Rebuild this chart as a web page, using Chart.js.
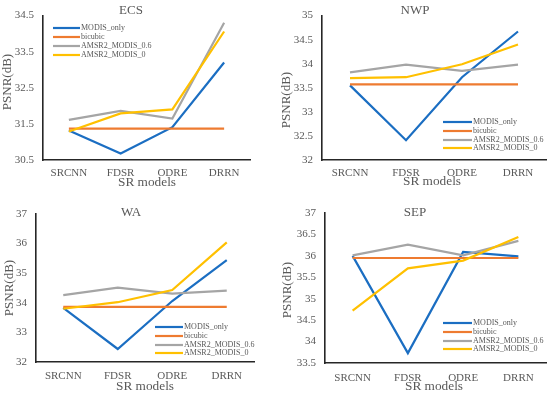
<!DOCTYPE html>
<html>
<head>
<meta charset="utf-8">
<script src="https://cdn.jsdelivr.net/npm/chart.js@4"></script>
<style>
html,body{margin:0;padding:0;background:#fff;width:550px;height:393px;overflow:hidden;}
.panel{position:absolute;}
</style>
</head>
<body>
<div class="panel" style="left:0;top:0;"><canvas id="c1" width="275" height="196"></canvas></div>
<div class="panel" style="left:275px;top:0;"><canvas id="c2" width="275" height="196"></canvas></div>
<div class="panel" style="left:0;top:196px;"><canvas id="c3" width="275" height="197"></canvas></div>
<div class="panel" style="left:275px;top:196px;"><canvas id="c4" width="275" height="197"></canvas></div>
<script>
const categories = ['SRCNN', 'FDSR', 'ODRE', 'DRRN'];
const seriesNames = ['MODIS_only', 'bicubic', 'AMSR2_MODIS_0.6', 'AMSR2_MODIS_0'];
const xTitle = 'SR models';
const yTitle = 'PSNR(dB)';

// ECS
const ecsModisOnly = [31.32, 30.68, 31.41, 33.20];
const ecsBicubic   = [31.37, 31.37, 31.37, 31.37];
const ecsAmsr06    = [31.61, 31.86, 31.65, 34.30];
const ecsAmsr0     = [31.29, 31.79, 31.90, 34.06];
const ecsTicks     = [30.5, 31.5, 32.5, 33.5, 34.5];

// NWP
const nwpModisOnly = [33.55, 32.41, 33.72, 34.67];
const nwpBicubic   = [33.57, 33.57, 33.57, 33.57];
const nwpAmsr06    = [33.82, 33.98, 33.85, 33.98];
const nwpAmsr0     = [33.70, 33.72, 33.99, 34.40];
const nwpTicks     = [32, 32.5, 33, 33.5, 34, 34.5, 35];

// WA
const waModisOnly = [33.83, 32.44, 34.06, 35.44];
const waBicubic   = [33.86, 33.86, 33.86, 33.86];
const waAmsr06    = [34.26, 34.51, 34.31, 34.41];
const waAmsr0     = [33.80, 34.02, 34.43, 36.04];
const waTicks     = [32, 33, 34, 35, 36, 37];

// SEP
const sepModisOnly = [36.00, 33.73, 36.09, 35.99];
const sepBicubic   = [35.95, 35.95, 35.95, 35.95];
const sepAmsr06    = [36.01, 36.26, 36.01, 36.35];
const sepAmsr0     = [34.72, 35.71, 35.89, 36.44];
const sepTicks     = [33.5, 34, 34.5, 35, 35.5, 36, 36.5, 37];

const colors = ['#1B6EC2', '#EE7B30', '#A5A5A5', '#FFC000'];
const textColor = '#595959';
const FONT = '"Liberation Serif", "Times New Roman", serif';

const decoPlugin = {
  id: 'deco',
  afterDraw(chart, args, o) {
    const ctx = chart.ctx;
    ctx.save();
    ctx.fillStyle = textColor;
    ctx.textAlign = 'center';
    ctx.textBaseline = 'middle';
    ctx.font = '13px ' + FONT;
    ctx.fillText(o.title, o.titleX, o.titleY);
    ctx.font = '13.3px ' + FONT;
    ctx.fillText(xTitle, o.xtX, o.xtY);
    ctx.save();
    ctx.translate(o.ytX, o.ytY);
    ctx.rotate(-Math.PI / 2);
    ctx.font = '13px ' + FONT;
    ctx.fillText(yTitle, 0, 0);
    ctx.restore();
    // legend
    ctx.font = '8px ' + FONT;
    ctx.textAlign = 'left';
    chart.data.datasets.forEach((ds, i) => {
      const y = o.legY[i];
      ctx.strokeStyle = ds.borderColor;
      ctx.lineWidth = 2.2;
      ctx.beginPath();
      ctx.moveTo(o.legX1, y);
      ctx.lineTo(o.legX2, y);
      ctx.stroke();
      ctx.fillStyle = textColor;
      ctx.fillText(ds.label, o.legX2 + 1, y);
    });
    ctx.restore();
  }
};

function makeChart(id, vals, ticks, g, deco) {
  const [w, h] = [g.w, g.h];
  new Chart(document.getElementById(id), {
    type: 'line',
    data: {
      labels: categories,
      datasets: vals.map((v, i) => ({
        label: seriesNames[i],
        data: v,
        borderColor: colors[i],
        backgroundColor: colors[i],
        borderWidth: 2.2,
        pointRadius: 0,
        tension: 0,
        fill: false,
        order: 3 - i
      }))
    },
    options: {
      responsive: false,
      animation: false,
      devicePixelRatio: 1,
      layout: { padding: { top: g.top, right: w - g.right, left: 0, bottom: 0 } },
      plugins: { legend: { display: false }, tooltip: { enabled: false }, title: { display: false }, deco: deco },
      scales: {
        x: {
          offset: true,
          grid: { display: false, drawTicks: false },
          border: { display: true, color: '#262626', width: 1.6 },
          ticks: { color: textColor, font: { family: FONT, size: 11 }, padding: g.xpad, maxRotation: 0, autoSkip: false },
          afterFit: s => { s.height = h - g.bottom; }
        },
        y: {
          min: ticks[0],
          max: ticks[ticks.length - 1],
          afterBuildTicks: s => { s.ticks = ticks.map(v => ({ value: v })); },
          grid: { display: false, drawTicks: false },
          border: { display: true, color: '#262626', width: 1.6 },
          ticks: { color: textColor, font: { family: FONT, size: 11 }, padding: 9, callback: v => String(v) },
          afterFit: s => { s.width = g.left; }
        }
      }
    },
    plugins: [decoPlugin]
  });
}

makeChart('c1', [ecsModisOnly, ecsBicubic, ecsAmsr06, ecsAmsr0], ecsTicks,
  { w: 275, h: 196, left: 43, right: 250, top: 13, bottom: 160, xpad: 7 },
  { title: 'ECS', titleX: 131, titleY: 11, xtX: 147, xtY: 183, ytX: 8, ytY: 82,
    legX1: 53, legX2: 80, legY: [28, 37, 46, 55] });

makeChart('c2', [nwpModisOnly, nwpBicubic, nwpAmsr06, nwpAmsr0], nwpTicks,
  { w: 275, h: 196, left: 47, right: 271, top: 13, bottom: 160, xpad: 7 },
  { title: 'NWP', titleX: 140, titleY: 11, xtX: 157, xtY: 182, ytX: 12, ytY: 100,
    legX1: 168, legX2: 197, legY: [122, 131, 140, 148] });

makeChart('c3', [waModisOnly, waBicubic, waAmsr06, waAmsr0], waTicks,
  { w: 275, h: 197, left: 36, right: 254, top: 18, bottom: 166, xpad: 8 },
  { title: 'WA', titleX: 131, titleY: 17, xtX: 145, xtY: 191, ytX: 10, ytY: 92,
    legX1: 155, legX2: 183, legY: [131, 140, 149, 157] });

makeChart('c4', [sepModisOnly, sepBicubic, sepAmsr06, sepAmsr0], sepTicks,
  { w: 275, h: 197, left: 50, right: 271, top: 17, bottom: 167, xpad: 9 },
  { title: 'SEP', titleX: 140, titleY: 17, xtX: 159, xtY: 191, ytX: 13, ytY: 94,
    legX1: 168, legX2: 197, legY: [127, 136, 145, 153] });
</script>
</body>
</html>
